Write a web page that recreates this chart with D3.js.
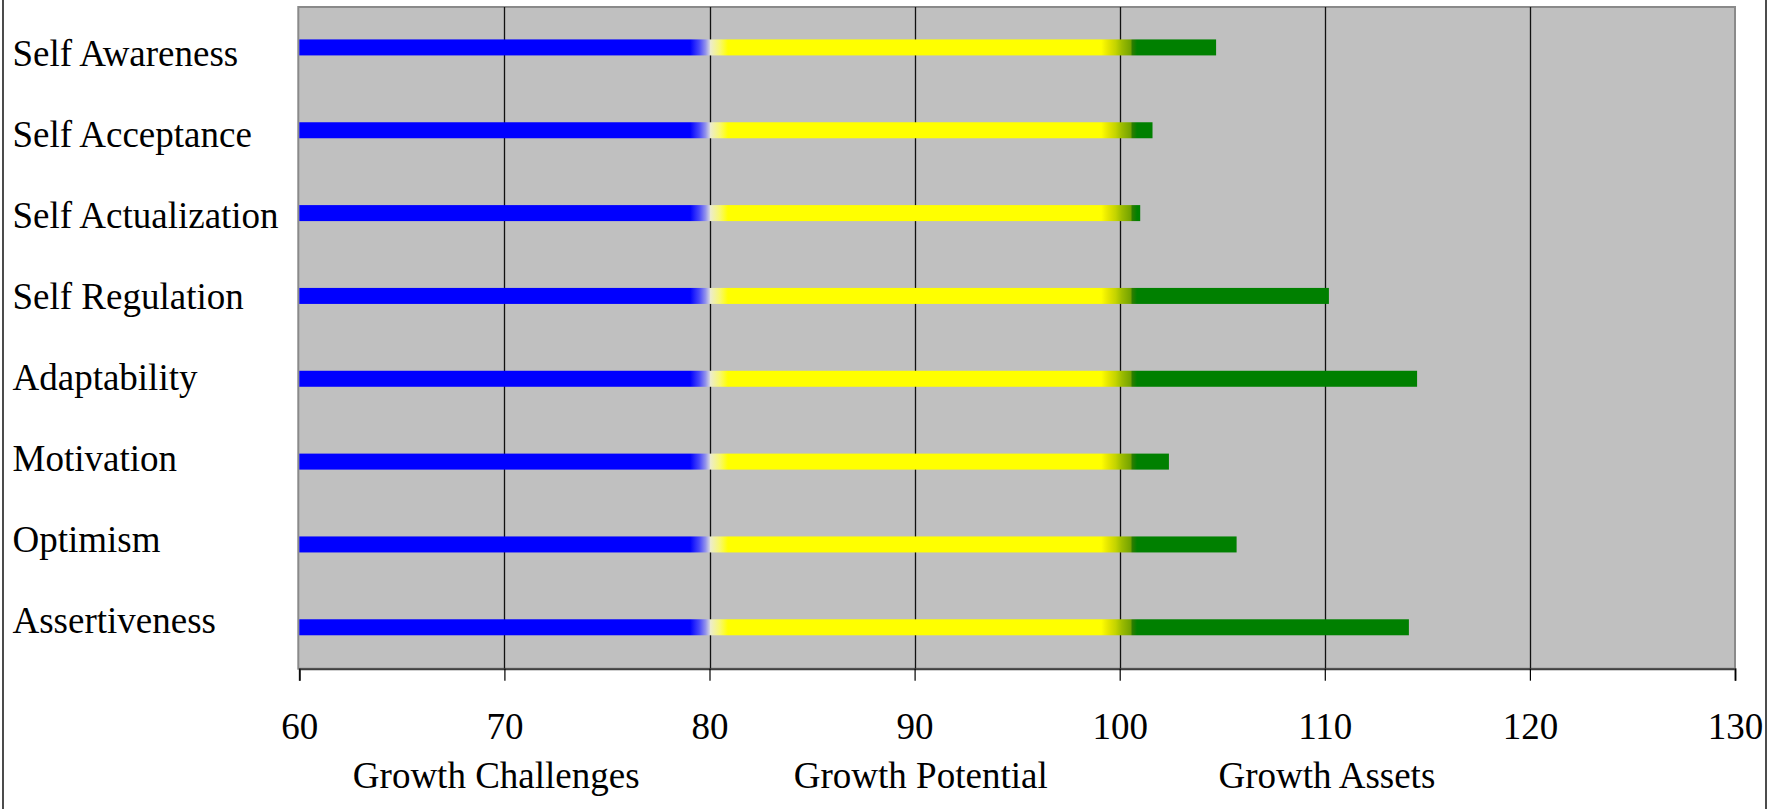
<!DOCTYPE html>
<html>
<head>
<meta charset="utf-8">
<script src="https://cdn.jsdelivr.net/npm/d3@7"></script>
<style>
  html, body { margin: 0; padding: 0; background: #fff; overflow: hidden; }
  text { font-family: "Liberation Serif", "Times New Roman", serif; fill: #000; }
</style>
</head>
<body>
<svg id="chart" width="1782" height="809"></svg>
<script>
// Scale scores per competency
const categories = ["Self Awareness", "Self Acceptance", "Self Actualization", "Self Regulation",
                    "Adaptability", "Motivation", "Optimism", "Assertiveness"];
const scores = [104.7, 101.6, 101.0, 110.2, 114.5, 102.4, 105.7, 114.1];
const tickValues = [60, 70, 80, 90, 100, 110, 120, 130];
const zoneNames = ["Growth Challenges", "Growth Potential", "Growth Assets"];
const zoneCentres = [69.6, 90.3, 110.1];
const axisStart = 60;

const svg = d3.select("#chart");
const plot = { left: 299.3, right: 1735, top: 6, bottom: 668.7 };

const x = d3.scaleLinear().domain([60, 130]).range([plot.left, plot.right]);
const y = d3.scaleBand().domain(categories).range([plot.top, plot.bottom]);
const labelY = d3.scalePoint().domain(categories).range([65.7, 632.7]);

// Outer frame (only the side edges fall inside the canvas)
svg.append("rect")
  .attr("x", 3).attr("y", -5).attr("width", 1763).attr("height", 830)
  .attr("fill", "none").attr("stroke", "#000").attr("stroke-width", 1.4);

// Plot area
svg.append("rect")
  .attr("x", plot.left - 1).attr("y", plot.top + 1)
  .attr("width", plot.right - plot.left + 1).attr("height", plot.bottom - plot.top - 1)
  .attr("fill", "#c0c0c0").attr("stroke", "#8a8a8a").attr("stroke-width", 2);

// Colour ramp along the value axis: challenges -> potential -> assets
const rampStops = [
  [60, "#0000ff"], [79.05, "#0000ff"], [79.5, "#4848fa"], [79.8, "#9090ec"], [80.0, "#d0d0e0"],
  [80.05, "#ececcc"], [80.5, "#f8f870"], [80.9, "#ffff00"],
  [99.1, "#ffff00"], [99.4, "#e8e800"], [99.8, "#c4d400"], [100.1, "#9cbc00"],
  [100.55, "#72a200"], [100.6, "#2f7d00"], [100.85, "#008000"], [130, "#008000"]
];
const defs = svg.append("defs");
const grad = defs.append("linearGradient")
  .attr("id", "ramp").attr("gradientUnits", "userSpaceOnUse")
  .attr("x1", x(60)).attr("x2", x(130)).attr("y1", 0).attr("y2", 0);
grad.selectAll("stop").data(rampStops).join("stop")
  .attr("offset", d => (d[0] - 60) / 70)
  .attr("stop-color", d => d[1]);

// Vertical gridlines
svg.append("g").selectAll("line")
  .data(tickValues.filter(v => v > 60 && v < 130)).join("line")
  .attr("x1", d => Math.round(x(d)) + 0.5).attr("x2", d => Math.round(x(d)) + 0.5)
  .attr("y1", plot.top + 1).attr("y2", plot.bottom)
  .attr("stroke", "#111").attr("stroke-width", 1.3);

// Bars
const barH = 16;
svg.append("g").selectAll("rect")
  .data(categories.map((c, i) => ({ c, v: scores[i] }))).join("rect")
  .attr("x", x(axisStart))
  .attr("y", d => y(d.c) + y.bandwidth() / 2 - barH / 2)
  .attr("width", d => x(d.v) - x(axisStart))
  .attr("height", barH)
  .attr("fill", "url(#ramp)");

// Category labels
svg.append("g").selectAll("text")
  .data(categories).join("text")
  .attr("x", 12.5).attr("y", d => labelY(d))
  .attr("font-size", 37)
  .text(d => d);

// Bottom axis
const axis = d3.axisBottom(x).tickValues(tickValues).tickSize(12).tickPadding(0).tickFormat(d3.format("d"));
const ax = svg.append("g").attr("transform", `translate(0,${plot.bottom})`).call(axis);
ax.select(".domain").attr("stroke", "#404040").attr("stroke-width", 2);
ax.selectAll(".tick line").attr("stroke", "#000").attr("stroke-width", 1.2);
ax.selectAll(".tick text")
  .attr("font-family", '"Liberation Serif", "Times New Roman", serif')
  .attr("font-size", 37).attr("fill", "#000")
  .attr("dy", null).attr("y", 739.3 - plot.bottom);

// Zone names under the axis
svg.append("g").selectAll("text")
  .data(zoneNames).join("text")
  .attr("x", (d, i) => x(zoneCentres[i])).attr("y", 788)
  .attr("text-anchor", "middle")
  .attr("font-size", 37)
  .text(d => d);
</script>
</body>
</html>
